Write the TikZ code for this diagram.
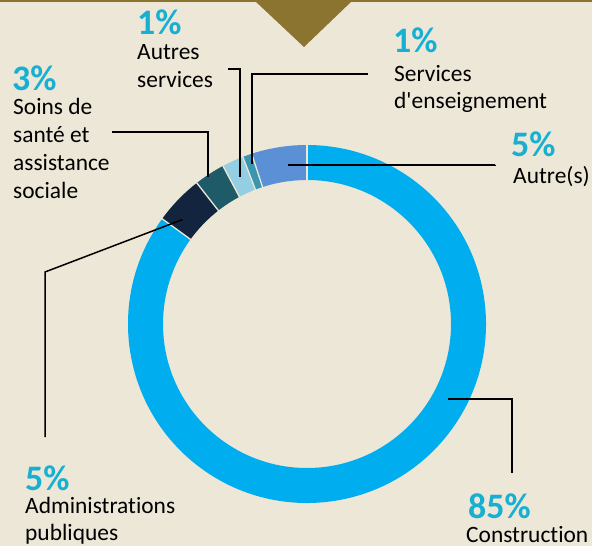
\documentclass[tikz,border=0pt]{standalone}
\usepackage{fontspec}
\setmainfont{Carlito}[Ligatures={TeXOff,NoCommon}]
\definecolor{bg}{HTML}{EDE7D8}
\definecolor{bar}{HTML}{8B7330}
\definecolor{pct}{HTML}{17AFD2}
\definecolor{cConstr}{HTML}{00AEEF}
\definecolor{cAdmin}{HTML}{13253E}
\definecolor{cSoins}{HTML}{1F5A69}
\definecolor{cAutServ}{HTML}{94CEE3}
\definecolor{cEns}{HTML}{3A95B0}
\definecolor{cAutre}{HTML}{5B8FD6}
\tikzset{
  pctlabel/.style={anchor=base west, inner sep=0pt, text=pct, font=\fontsize{36}{36}\selectfont\bfseries},
  txtlabel/.style={anchor=base west, inner sep=0pt, text=black, font=\fontsize{23.5}{27.5}\selectfont},
  leader/.style={draw=black, line width=1.5bp},
  sep/.style={draw=bg, line width=1.3bp},
}
\newcommand{\ringseg}[3]{%
  \fill[#3] (#1:179) arc[start angle=#1, end angle=#2, radius=179] -- (#2:144) arc[start angle=#2, end angle=#1, radius=144] -- cycle;}
\begin{document}
\begin{tikzpicture}[x=1bp, y=-1bp]
\fill[bg] (0,0) rectangle (592,546);
\useasboundingbox (0,0) rectangle (592,546);
% top bar and triangle
\fill[bar] (0,0) rectangle (592,2);
\fill[bar] (255,1) -- (352,1) -- (304,47) -- cycle;
% ring
\begin{scope}[shift={(307,324)}, y=1bp]
  \ringseg{144}{450}{cConstr}
  \ringseg{128}{144}{cAdmin}
  \ringseg{118}{128}{cSoins}
  \ringseg{111}{118}{cAutServ}
  \ringseg{108}{111}{cEns}
  \ringseg{90}{108}{cAutre}
  \foreach \a in {90,108,111,118,128,144}
    \draw[sep] (\a:143) -- (\a:180);
  \coordinate (pConstr) at (-28:160);
  \coordinate (pAdmin) at (140:162.5);
  \coordinate (pSoins) at (124:177);
  \coordinate (pAutServ) at (114.5:161.5);
  \coordinate (pEns) at (109:169);
  \coordinate (pAutre) at (96.8:160);
\end{scope}
% labels
\node[pctlabel] (n1) at (137,35) {1\%};
\node[txtlabel] (t1a) at (137,60) {Autres};
\node[txtlabel] (t1b) at (137,88) {services};
\node[pctlabel] (n2) at (393,53) {1\%};
\node[txtlabel] (t2a) at (394,82) {Services};
\node[txtlabel] (t2b) at (394,109) {d'enseignement};
\node[pctlabel] (n3) at (12,91) {3\%};
\node[txtlabel] (t3a) at (13,115) {Soins de};
\node[txtlabel] (t3b) at (13,143) {santé et};
\node[txtlabel] (t3c) at (13,171) {assistance};
\node[txtlabel] (t3d) at (13,199) {sociale};
\node[pctlabel] (n4) at (511,157) {5\%};
\node[txtlabel] (t4) at (513,184) {Autre(s)};
\node[pctlabel] (n5) at (25,490) {5\%};
\node[txtlabel] (t5a) at (25,513) {Administrations};
\node[txtlabel] (t5b) at (25,540) {publiques};
\node[pctlabel] (n6) at (468,518) {85\%};
\node[txtlabel] (t6) at (466,542) {Construction};
% leader line end points
\coordinate (eAutServ) at (228,69);
\coordinate (eEns) at (368,74);
\coordinate (eSoins) at (112,132);
\coordinate (eAutre) at (495,165);
\coordinate (eAdmin) at (45,437);
\coordinate (eConstr) at (512,473);
% leader lines
\draw[leader] (pAutServ) -- (pAutServ |- eAutServ) -- (eAutServ);
\draw[leader] (pEns) -- (pEns |- eEns) -- (eEns);
\draw[leader] (pSoins) -- (pSoins |- eSoins) -- (eSoins);
\draw[leader] (pAutre) -- (pAutre -| eAutre) -- (eAutre);
\draw[leader] (pAdmin) -- (45,272) -- (eAdmin);
\draw[leader] (pConstr) -- (pConstr -| eConstr) -- (eConstr);
\end{tikzpicture}
\end{document}
